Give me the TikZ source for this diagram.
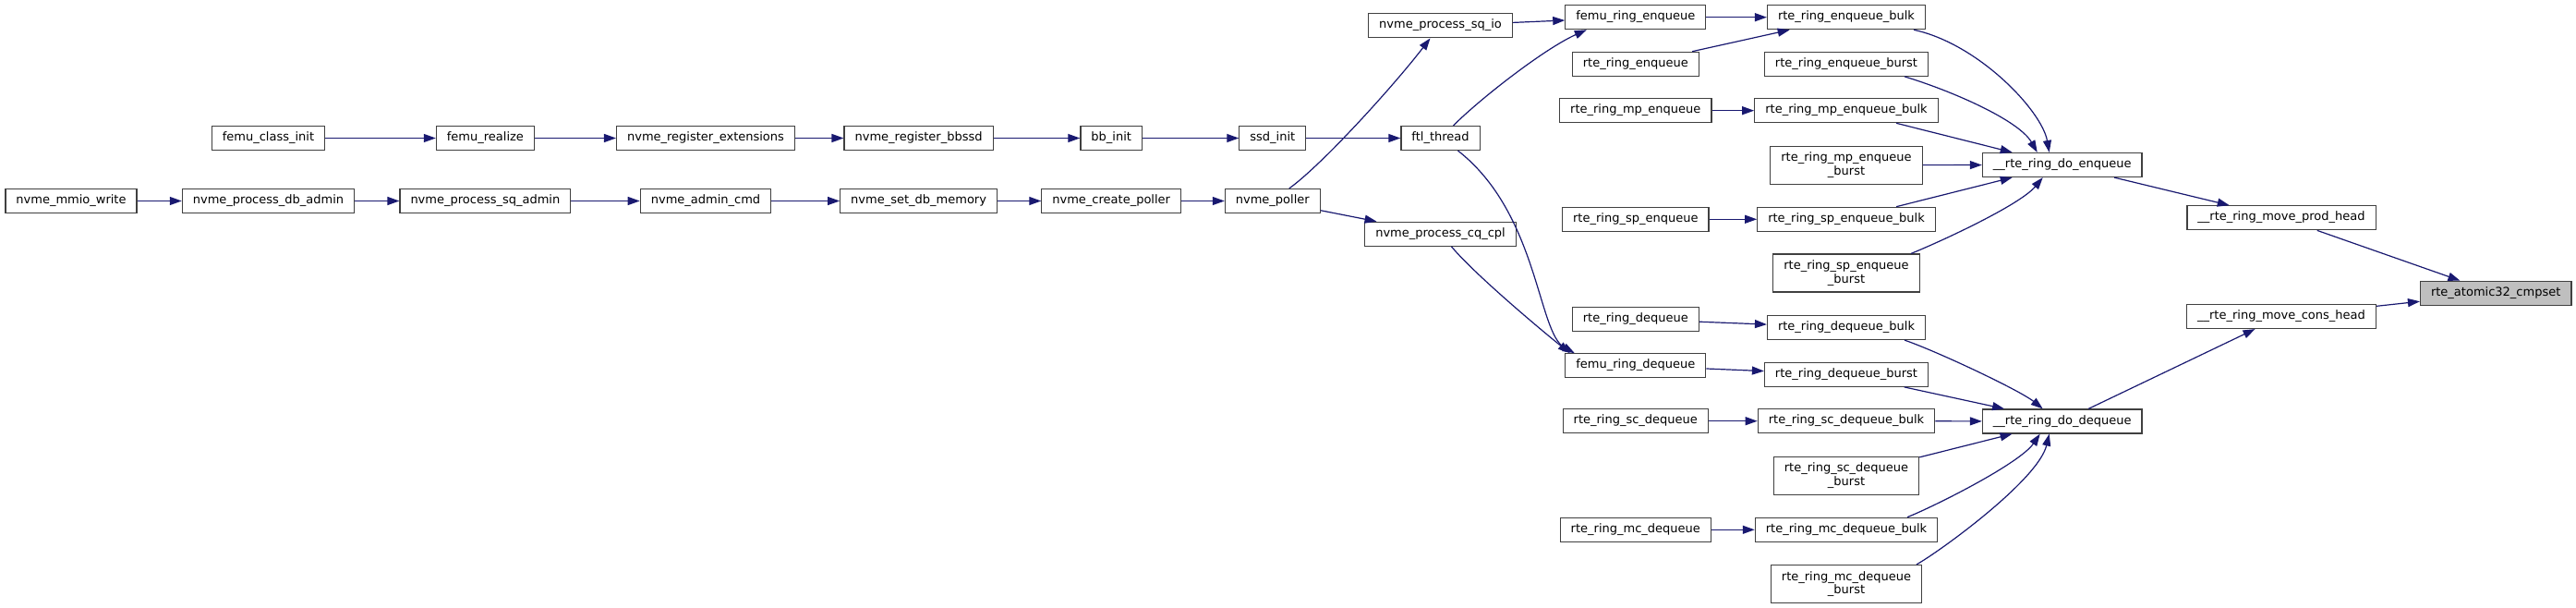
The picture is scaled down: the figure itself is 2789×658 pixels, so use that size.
\documentclass[tikz,border=0pt]{standalone}
\usepackage{fontspec}
\setmainfont{DejaVu Sans}
\usetikzlibrary{arrows.meta}
\definecolor{callc}{HTML}{191970}
\definecolor{boxc}{HTML}{404040}
\definecolor{rootc}{HTML}{BFBFBF}

\begin{document}
\begin{tikzpicture}[x=1pt,y=-1pt,line width=1.2pt,font=\fontsize{13}{14.5}\selectfont,
  fn/.style={draw=boxc,fill=white,inner xsep=11.5pt,inner ysep=0pt,minimum height=26pt,text height=9.6pt,text depth=3.4pt},
  fnii/.style={draw=boxc,fill=white,inner xsep=11.5pt,inner ysep=0pt,minimum height=41pt,align=center},
  call/.style={draw=callc,-{Triangle[length=13pt,width=9pt]}}]
\useasboundingbox (0,0) rectangle (2789,658);
\node[fn] (mmio) at (77,217.5) {nvme\_mmio\_write};
\node[fn] (classinit) at (290.5,149.5) {femu\_class\_init};
\node[fn] (dbadm) at (290.5,217.5) {nvme\_process\_db\_admin};
\node[fn] (realize) at (525.4,149.5) {femu\_realize};
\node[fn] (sqadm) at (525.4,217.5) {nvme\_process\_sq\_admin};
\node[fn] (regext) at (764,149.5) {nvme\_register\_extensions};
\node[fn] (admcmd) at (764,217.5) {nvme\_admin\_cmd};
\node[fn] (regbb) at (994.6,149.5) {nvme\_register\_bbssd};
\node[fn] (dbmem) at (994.6,217.5) {nvme\_set\_db\_memory};
\node[fn] (bbinit) at (1203.2,149.5) {bb\_init};
\node[fn] (mkpoller) at (1203.2,217.5) {nvme\_create\_poller};
\node[fn] (ssdinit) at (1377.8,149.5) {ssd\_init};
\node[fn] (poller) at (1377.8,217.5) {nvme\_poller};
\node[fn] (sqio) at (1559.5,27.8) {nvme\_process\_sq\_io};
\node[fn] (ftl) at (1559.5,149.5) {ftl\_thread};
\node[fn] (cqcpl) at (1559.5,253.3) {nvme\_process\_cq\_cpl};
\node[fn] (fenq) at (1770.8,18.7) {femu\_ring\_enqueue};
\node[fn] (enq) at (1770.8,69.3) {rte\_ring\_enqueue};
\node[fn] (mpenq) at (1770.8,119.7) {rte\_ring\_mp\_enqueue};
\node[fn] (spenq) at (1770.8,237.3) {rte\_ring\_sp\_enqueue};
\node[fn] (deq) at (1770.8,345.5) {rte\_ring\_dequeue};
\node[fn] (fdeq) at (1770.8,395.8) {femu\_ring\_dequeue};
\node[fn] (scdeq) at (1770.8,455.7) {rte\_ring\_sc\_dequeue};
\node[fn] (mcdeq) at (1770.8,573.3) {rte\_ring\_mc\_dequeue};
\node[fn] (enqbulk) at (1999,18.7) {rte\_ring\_enqueue\_bulk};
\node[fn] (enqburst) at (1999,69.3) {rte\_ring\_enqueue\_burst};
\node[fn] (mpbulk) at (1999,119.7) {rte\_ring\_mp\_enqueue\_bulk};
\node[fnii] (mpburst) at (1999,178.7) {rte\_ring\_mp\_enqueue\\\_burst};
\node[fn] (spbulk) at (1999,237.3) {rte\_ring\_sp\_enqueue\_bulk};
\node[fnii] (spburst) at (1999,295.5) {rte\_ring\_sp\_enqueue\\\_burst};
\node[fn] (deqbulk) at (1999,354.5) {rte\_ring\_dequeue\_bulk};
\node[fn] (deqburst) at (1999,405.3) {rte\_ring\_dequeue\_burst};
\node[fn] (scbulk) at (1999,455.7) {rte\_ring\_sc\_dequeue\_bulk};
\node[fnii] (scburst) at (1999,514.7) {rte\_ring\_sc\_dequeue\\\_burst};
\node[fn] (mcbulk) at (1999,573.3) {rte\_ring\_mc\_dequeue\_bulk};
\node[fnii] (mcburst) at (1999,632) {rte\_ring\_mc\_dequeue\\\_burst};
\node[fn] (doenq) at (2232.7,178.5) {\_\_rte\_ring\_do\_enqueue};
\node[fn] (dodeq) at (2232.7,456) {\_\_rte\_ring\_do\_dequeue};
\node[fn] (prodhead) at (2470,235.8) {\_\_rte\_ring\_move\_prod\_head};
\node[fn] (conshead) at (2470,342.5) {\_\_rte\_ring\_move\_cons\_head};
\node[fn,fill=rootc] (cmpset) at (2702.2,317.3) {rte\_atomic32\_cmpset};
\draw[call] (mmio)--(dbadm);
\draw[call] (dbadm)--(sqadm);
\draw[call] (sqadm)--(admcmd);
\draw[call] (admcmd)--(dbmem);
\draw[call] (dbmem)--(mkpoller);
\draw[call] (mkpoller)--(poller);
\draw[call] (classinit)--(realize);
\draw[call] (realize)--(regext);
\draw[call] (regext)--(regbb);
\draw[call] (regbb)--(bbinit);
\draw[call] (bbinit)--(ssdinit);
\draw[call] (ssdinit)--(ftl);
\draw[call] ([xshift=18pt]poller.north) .. controls +(35,-25) and +(-40,52) .. ([xshift=-11pt]sqio.south);
\draw[call] (poller)--(cqcpl);
\draw[call] (sqio)--(fenq);
\draw[call] ([xshift=14pt]ftl.north) .. controls +(30,-30) and +(-45,20) .. ([xshift=-53pt]fenq.south);
\draw[call] ([xshift=19pt]ftl.south) .. controls +(87,68) and +(-40,-22) .. ([xshift=-66pt]fdeq.north);
\draw[call] ([xshift=12pt]cqcpl.south) .. controls +(25,30) and +(-30,-24) .. ([xshift=-71pt]fdeq.north);
\draw[call] (fenq)--(enqbulk);
\draw[call] (enq)--(enqbulk);
\draw[call] (mpenq)--(mpbulk);
\draw[call] (spenq)--(spbulk);
\draw[call] (deq)--(deqbulk);
\draw[call] (fdeq)--(deqburst);
\draw[call] (scdeq)--(scbulk);
\draw[call] (mcdeq)--(mcbulk);
\draw[call] ([xshift=73pt]enqbulk.south) .. controls +(70,15) and +(-8,-45) .. ([xshift=-14pt]doenq.north);
\draw[call] ([xshift=63pt]enqburst.south) .. controls +(50,15) and +(-20,-35) .. ([xshift=-27pt]doenq.north);
\draw[call] (mpbulk)--(doenq);
\draw[call] (mpburst)--(doenq);
\draw[call] (spbulk)--(doenq);
\draw[call] ([xshift=70pt]spburst.north) .. controls +(30,-12) and +(-25,30) .. ([xshift=-21pt]doenq.south);
\draw[call] ([xshift=63pt]deqbulk.south) .. controls +(35,12) and +(-25,-20) .. ([xshift=-21pt]dodeq.north);
\draw[call] (deqburst)--(dodeq);
\draw[call] (scbulk)--(dodeq);
\draw[call] (scburst)--(dodeq);
\draw[call] ([xshift=66pt]mcbulk.north) .. controls +(30,-12) and +(-22,32) .. ([xshift=-24pt]dodeq.south);
\draw[call] ([xshift=76pt]mcburst.north) .. controls +(25,-14) and +(-12,50) .. ([xshift=-14pt]dodeq.south);
\draw[call] (doenq)--(prodhead);
\draw[call] (dodeq)--(conshead);
\draw[call] (prodhead)--(cmpset);
\draw[call] (conshead)--(cmpset);
\end{tikzpicture}
\end{document}
